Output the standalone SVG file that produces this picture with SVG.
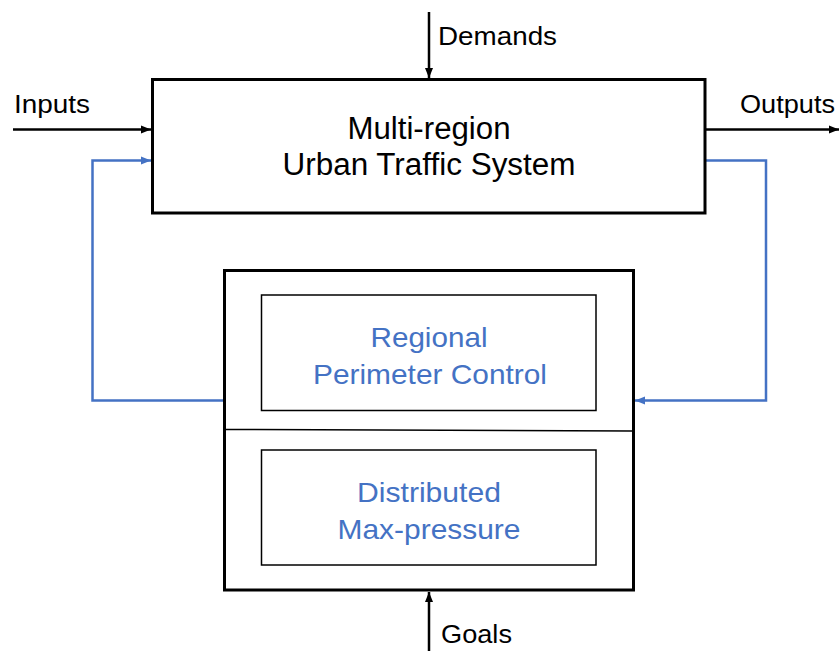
<svg xmlns="http://www.w3.org/2000/svg" width="839" height="651" viewBox="0 0 839 651">
<style>
.box{fill:#fff;stroke:#000;stroke-width:3}
.inner{fill:#fff;stroke:#000;stroke-width:1.5}
.blk{fill:none;stroke:#000;stroke-width:2.5}
.blu{fill:none;stroke:#4472C4;stroke-width:2.5}
.t{font-family:"Liberation Sans",Arial,sans-serif;fill:#000}
.tb{font-family:"Liberation Sans",Arial,sans-serif;fill:#4472C4}
</style>
<defs>
<marker id="ab" markerUnits="userSpaceOnUse" markerWidth="10" markerHeight="10" viewBox="0 0 10 10" refX="10" refY="5" orient="auto">
<path d="M0,1 L10,5 L0,9 z" fill="#000"/>
</marker>
<marker id="au" markerUnits="userSpaceOnUse" markerWidth="10" markerHeight="10" viewBox="0 0 10 10" refX="10" refY="5" orient="auto">
<path d="M0,1 L10,5 L0,9 z" fill="#4472C4"/>
</marker>
</defs>
<g id="connectors">
<line class="blk" x1="13" y1="129.5" x2="151" y2="129.5" marker-end="url(#ab)"/>
<line class="blk" x1="706" y1="129.5" x2="839" y2="129.5" marker-end="url(#ab)"/>
<line class="blk" x1="429" y1="12" x2="429" y2="78" marker-end="url(#ab)"/>
<line class="blk" x1="429" y1="651" x2="429" y2="592" marker-end="url(#ab)"/>
<polyline class="blu" points="224,400.5 92.5,400.5 92.5,160.5 151,160.5" marker-end="url(#au)"/>
<polyline class="blu" points="706,160.5 766,160.5 766,400.5 635,400.5" marker-end="url(#au)"/>
</g>
<g id="system">
<rect class="box" x="152.5" y="79.5" width="552.5" height="133.5"/>
<text class="t" x="429" y="139" font-size="31" text-anchor="middle" textLength="163" lengthAdjust="spacingAndGlyphs">Multi-region</text>
<text class="t" x="429" y="175" font-size="31" text-anchor="middle" textLength="293" lengthAdjust="spacingAndGlyphs">Urban Traffic System</text>
</g>
<g id="controller">
<rect class="box" x="224.5" y="270.5" width="409" height="319.5"/>
<line x1="226" y1="429.5" x2="632" y2="431" stroke="#000" stroke-width="1.5"/>
</g>
<g id="perimeter">
<rect class="inner" x="261.5" y="295" width="334.5" height="115.5"/>
<text class="tb" x="429" y="347" font-size="28" text-anchor="middle" textLength="117" lengthAdjust="spacingAndGlyphs">Regional</text>
<text class="tb" x="430" y="384" font-size="28" text-anchor="middle" textLength="234" lengthAdjust="spacingAndGlyphs">Perimeter Control</text>
</g>
<g id="maxpressure">
<rect class="inner" x="261.5" y="450" width="334.5" height="115"/>
<text class="tb" x="429" y="502" font-size="28" text-anchor="middle" textLength="144" lengthAdjust="spacingAndGlyphs">Distributed</text>
<text class="tb" x="429" y="539" font-size="28" text-anchor="middle" textLength="183" lengthAdjust="spacingAndGlyphs">Max-pressure</text>
</g>
<g id="labels">
<text class="t" x="14" y="113" font-size="26" textLength="76" lengthAdjust="spacingAndGlyphs">Inputs</text>
<text class="t" x="740" y="113" font-size="26" textLength="95" lengthAdjust="spacingAndGlyphs">Outputs</text>
<text class="t" x="438" y="45" font-size="26" textLength="119" lengthAdjust="spacingAndGlyphs">Demands</text>
<text class="t" x="441" y="643" font-size="26" textLength="71" lengthAdjust="spacingAndGlyphs">Goals</text>
</g>
</svg>
